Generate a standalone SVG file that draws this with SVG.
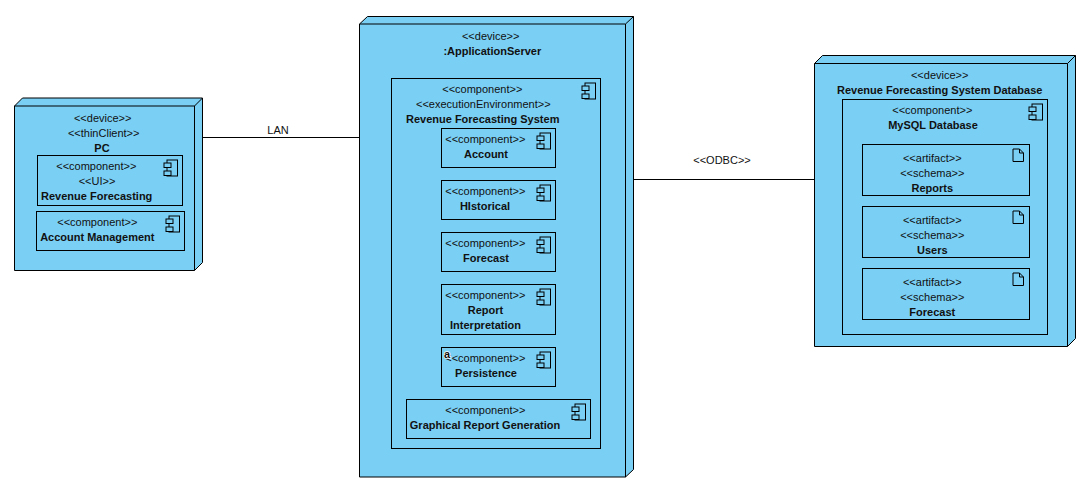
<svg xmlns="http://www.w3.org/2000/svg" width="1087" height="493" viewBox="0 0 1087 493">
<style>
rect,path.n{fill:#7acff5;stroke:#000;stroke-width:1}
.i{fill:#7acff5;stroke:#000;stroke-width:1}
.c{stroke:#000;stroke-width:1;fill:none}
text{font-family:"Liberation Sans",Arial,sans-serif;font-size:11px;text-anchor:middle;fill:#111}
.b{font-weight:bold}
.h{font-weight:bold;stroke:#fff;stroke-width:1.5;paint-order:stroke}
</style>
<defs>
<g id="ci"><rect class="i" x="-15.5" y="4.5" width="10.500" height="16"/><rect class="i" x="-18.5" y="7.5" width="7" height="4.5"/><rect class="i" x="-18.5" y="15.5" width="7" height="4.5"/></g>
<g id="ai"><path class="i" d="M-16.500 4.500H-10L-6 8.500V17H-16.500ZM-10 4.500V8.500H-6"/></g>
</defs>
<g id="connectors">
<path class="c" d="M202.500 137.500H359.500"/>
<path class="c" d="M633.500 179.500H814.500"/>
<text x="278" y="134">LAN</text>
<text x="722" y="164">&lt;&lt;ODBC&gt;&gt;</text>
</g>
<g id="pc">
<path class="n" d="M14.500 106L22.500 98H202.500V262.500L194.500 270.500H14.500ZM14.500 106H194.500V270.500M194.500 106L202.500 98"/>
<text x="102.700" y="122">&lt;&lt;device&gt;&gt;</text><text x="103.700" y="137">&lt;&lt;thinClient&gt;&gt;</text><text x="102" y="152" class="b">PC</text>
</g>
<g id="pc-revenue-forecasting">
<rect x="37.500" y="155.500" width="145" height="50"/><use href="#ci" x="182.500" y="155.500"/>
<text x="96.300" y="170">&lt;&lt;component&gt;&gt;</text><text x="97" y="185">&lt;&lt;UI&gt;&gt;</text><text x="96.700" y="200" class="b">Revenue Forecasting</text>
</g>
<g id="pc-account-management">
<rect x="36.500" y="211.500" width="148" height="39"/><use href="#ci" x="184.500" y="211.500"/>
<text x="97.300" y="226">&lt;&lt;component&gt;&gt;</text><text x="97.300" y="241" class="b">Account Management</text>
</g>
<g id="application-server">
<path class="n" d="M359.500 24L367.500 16.500H633.500V469.500L625.500 477H359.500ZM359.500 24H625.500V477M625.500 24L633.500 16.500"/>
<text x="490.700" y="40">&lt;&lt;device&gt;&gt;</text><text x="492.300" y="55" class="b">:ApplicationServer</text>
</g>
<g id="revenue-forecasting-system">
<rect x="391.500" y="78.500" width="209" height="370"/><use href="#ci" x="600.500" y="78.500"/>
<text x="482.300" y="93">&lt;&lt;component&gt;&gt;</text><text x="483.300" y="108">&lt;&lt;executionEnvironment&gt;&gt;</text><text x="482.700" y="123" class="b">Revenue Forecasting System</text>
</g>
<g id="account">
<rect x="441.500" y="128.500" width="114" height="39"/><use href="#ci" x="555.500" y="128.500"/>
<text x="485.300" y="143">&lt;&lt;component&gt;&gt;</text><text x="486" y="158" class="b">Account</text>
</g>
<g id="historical">
<rect x="441.500" y="180.500" width="114" height="39"/><use href="#ci" x="555.500" y="180.500"/>
<text x="485.300" y="195">&lt;&lt;component&gt;&gt;</text><text x="485" y="210" class="b">HIstorical</text>
</g>
<g id="forecast">
<rect x="441.500" y="232.500" width="114" height="39"/><use href="#ci" x="555.500" y="232.500"/>
<text x="485.300" y="247">&lt;&lt;component&gt;&gt;</text><text x="486" y="262" class="b">Forecast</text>
</g>
<g id="report-interpretation">
<rect x="441.500" y="284.500" width="114" height="50"/><use href="#ci" x="555.500" y="284.500"/>
<text x="485.300" y="299">&lt;&lt;component&gt;&gt;</text><text x="485.500" y="314" class="b">Report</text><text x="485.500" y="329" class="b">Interpretation</text>
</g>
<g id="persistence">
<rect x="441.500" y="347.500" width="114" height="39"/><use href="#ci" x="555.500" y="347.500"/>
<text x="485.300" y="362">&lt;&lt;component&gt;&gt;</text><text x="447" y="357.500" class="h">a</text><text x="486" y="377" class="b">Persistence</text>
</g>
<g id="graphical-report-generation">
<rect x="406.500" y="399.500" width="184" height="39"/><use href="#ci" x="590.500" y="399.500"/>
<text x="485.300" y="414">&lt;&lt;component&gt;&gt;</text><text x="485" y="429" class="b">Graphical Report Generation</text>
</g>
<g id="database-device">
<path class="n" d="M814.500 63.500L822.500 55.500H1075.500V338.500L1067.500 346.500H814.500ZM814.500 63.500H1067.500V346.500M1067.500 63.500L1075.500 55.500"/>
<text x="939.700" y="79">&lt;&lt;device&gt;&gt;</text><text x="939.700" y="94" class="b">Revenue Forecasting System Database</text>
</g>
<g id="mysql-database">
<rect x="842.500" y="99.500" width="205" height="235"/><use href="#ci" x="1047.500" y="99.500"/>
<text x="932.300" y="114">&lt;&lt;component&gt;&gt;</text><text x="933" y="129" class="b">MySQL Database</text>
</g>
<g id="artifact-reports">
<rect x="862.500" y="144.500" width="167" height="51"/><use href="#ai" x="1029.500" y="144.500"/>
<text x="932.300" y="162">&lt;&lt;artifact&gt;&gt;</text><text x="932.300" y="177">&lt;&lt;schema&gt;&gt;</text><text x="932.300" y="192" class="b">Reports</text>
</g>
<g id="artifact-users">
<rect x="862.500" y="206.500" width="167" height="51"/><use href="#ai" x="1029.500" y="206.500"/>
<text x="932.300" y="224">&lt;&lt;artifact&gt;&gt;</text><text x="932.300" y="239">&lt;&lt;schema&gt;&gt;</text><text x="932.300" y="254" class="b">Users</text>
</g>
<g id="artifact-forecast">
<rect x="862.500" y="268.500" width="167" height="51"/><use href="#ai" x="1029.500" y="268.500"/>
<text x="932.300" y="286">&lt;&lt;artifact&gt;&gt;</text><text x="932.300" y="301">&lt;&lt;schema&gt;&gt;</text><text x="932.300" y="316" class="b">Forecast</text>
</g>
</svg>
